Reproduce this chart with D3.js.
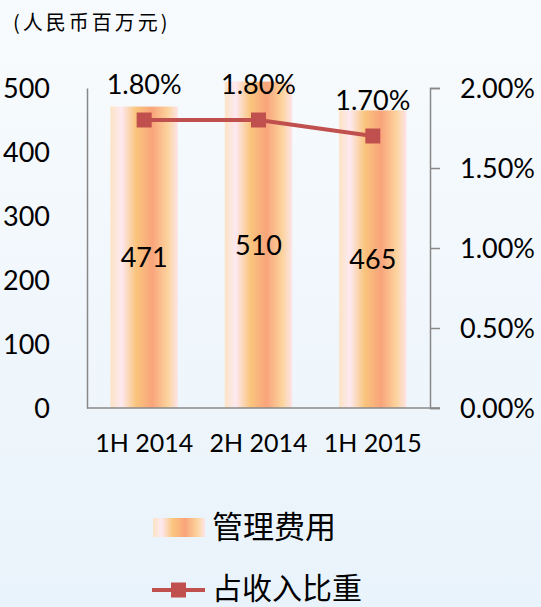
<!DOCTYPE html>
<html>
<head>
<meta charset="utf-8">
<script src="https://cdn.jsdelivr.net/npm/d3@7"></script>
<style>
  body { margin: 0; padding: 0; }
  svg { display: block; }
</style>
</head>
<body>
<script>
'use strict';
// data
var periods = ["1H 2014", "2H 2014", "1H 2015"];
var expense = [471, 510, 465];      // 管理费用, 人民币百万元
var ratio = [1.80, 1.80, 1.70];     // 占收入比重, %
var leftTicks = [0, 100, 200, 300, 400, 500];
var rightTicks = [0, 0.5, 1.0, 1.5, 2.0];

var W = 541, H = 607;
var svg = d3.select("body").append("svg")
    .attr("width", W).attr("height", H);

var defs = svg.append("defs");
var bg = defs.append("linearGradient").attr("id", "bg")
    .attr("x1", 0).attr("y1", 0).attr("x2", 0).attr("y2", 1);
bg.append("stop").attr("offset", "0%").attr("stop-color", "#f8fbfd");
bg.append("stop").attr("offset", "100%").attr("stop-color", "#e9f3fb");

var barGrad = defs.append("linearGradient").attr("id", "barGrad")
    .attr("x1", 0).attr("y1", 0).attr("x2", 1).attr("y2", 0);
[["0%", "#fce3c4"], ["16%", "#fde9f1"], ["38%", "#fac57d"],
 ["62%", "#f9a47b"], ["85%", "#fcd39c"], ["100%", "#fde4e8"]].forEach(function(s) {
    barGrad.append("stop").attr("offset", s[0]).attr("stop-color", s[1]);
});

svg.append("rect").attr("width", W).attr("height", H).attr("fill", "url(#bg)");

var margin = {top: 88, left: 87, right: 111, bottom: 199};
var plotW = W - margin.left - margin.right,
    plotH = H - margin.top - margin.bottom;

var g = svg.append("g")
    .attr("transform", "translate(" + margin.left + "," + margin.top + ")");

var xScale = d3.scaleBand()
    .domain(periods)
    .range([0, plotW])
    .paddingInner(0.41)
    .paddingOuter(0.205);

var yLeft = d3.scaleLinear().domain([0, 500]).range([plotH, 0]);
var yRight = d3.scaleLinear().domain([0, 2.0]).range([plotH, 0]);

var numFont = "Lato, 'Open Sans', sans-serif";
var cjkFont = "'Noto Sans CJK SC', sans-serif";

// bars
g.selectAll(".bar")
    .data(expense)
    .enter().append("rect")
    .attr("class", "bar")
    .attr("x", function(d, i) { return xScale(periods[i]); })
    .attr("width", xScale.bandwidth())
    .attr("y", function(d) { return yLeft(d); })
    .attr("height", function(d) { return plotH - yLeft(d); })
    .attr("fill", "url(#barGrad)");

// bar value labels
g.selectAll(".barLabel")
    .data(expense)
    .enter().append("text")
    .attr("x", function(d, i) { return xScale(periods[i]) + xScale.bandwidth() / 2; })
    .attr("y", function(d) { return (yLeft(d) + plotH) / 2; })
    .attr("dy", "0.36em")
    .attr("text-anchor", "middle")
    .attr("font-family", numFont)
    .attr("font-size", 27)
    .attr("fill", "#000")
    .text(function(d) { return d; });

// left axis
var leftAxis = g.append("g")
    .call(d3.axisLeft(yLeft).tickValues(leftTicks).tickSize(0).tickPadding(37));
leftAxis.select(".domain").attr("stroke", "#888").attr("stroke-width", 1.5);
leftAxis.selectAll("text")
    .attr("font-family", numFont).attr("font-size", 27).attr("fill", "#000")
    .attr("dy", "0.36em");

// right axis
var rightAxis = g.append("g")
    .attr("transform", "translate(" + plotW + ",0)")
    .call(d3.axisRight(yRight).tickValues(rightTicks).tickSize(10).tickPadding(20)
        .tickSizeOuter(10)
        .tickFormat(function(d) { return d.toFixed(2) + "%"; }));
rightAxis.selectAll("line, .domain").attr("stroke", "#888").attr("stroke-width", 1.5);
rightAxis.selectAll("text")
    .attr("font-family", numFont).attr("font-size", 27).attr("fill", "#000")
    .attr("dy", "0.36em");

// x axis
var xAxis = g.append("g")
    .attr("transform", "translate(0," + plotH + ")")
    .call(d3.axisBottom(xScale).tickSize(0).tickPadding(26));
xAxis.select(".domain").attr("d", "M0,0H" + (plotW + 10))
    .attr("stroke", "#888").attr("stroke-width", 1.5);
xAxis.selectAll("text")
    .attr("font-family", numFont).attr("font-size", 25).attr("fill", "#000");

// ratio line
var line = d3.line()
    .x(function(d, i) { return xScale(periods[i]) + xScale.bandwidth() / 2; })
    .y(function(d) { return yRight(d); });

g.append("path")
    .datum(ratio)
    .attr("d", line)
    .attr("fill", "none")
    .attr("stroke", "#c0504d")
    .attr("stroke-width", 4);

g.selectAll(".marker")
    .data(ratio)
    .enter().append("rect")
    .attr("x", function(d, i) { return xScale(periods[i]) + xScale.bandwidth() / 2 - 7.5; })
    .attr("y", function(d) { return yRight(d) - 7.5; })
    .attr("width", 15).attr("height", 15)
    .attr("fill", "#c0504d");

g.selectAll(".ratioLabel")
    .data(ratio)
    .enter().append("text")
    .attr("x", function(d, i) { return xScale(periods[i]) + xScale.bandwidth() / 2; })
    .attr("y", function(d) { return yRight(d) - 36; })
    .attr("dy", "0.36em")
    .attr("text-anchor", "middle")
    .attr("font-family", numFont)
    .attr("font-size", 27)
    .attr("fill", "#000")
    .text(function(d) { return d.toFixed(2) + "%"; });

// unit label
svg.append("text")
    .attr("x", 13).attr("y", 30)
    .attr("font-family", cjkFont)
    .attr("font-size", 20)
    .attr("letter-spacing", 3)
    .attr("fill", "#000")
    .text("(人民币百万元)");

// legend
var legend = svg.append("g");
legend.append("rect")
    .attr("x", 153).attr("y", 518).attr("width", 52).attr("height", 19)
    .attr("fill", "url(#barGrad)");
legend.append("text")
    .attr("x", 212).attr("y", 527).attr("dy", "0.36em")
    .attr("font-family", cjkFont)
    .attr("font-size", 31).attr("fill", "#000")
    .text("管理费用");
legend.append("line")
    .attr("x1", 152).attr("x2", 205).attr("y1", 590).attr("y2", 590)
    .attr("stroke", "#c0504d").attr("stroke-width", 4);
legend.append("rect")
    .attr("x", 171).attr("y", 582.5).attr("width", 15).attr("height", 15)
    .attr("fill", "#c0504d");
legend.append("text")
    .attr("x", 212).attr("y", 588).attr("dy", "0.36em")
    .attr("font-family", cjkFont)
    .attr("font-size", 30).attr("fill", "#000")
    .text("占收入比重");
</script>
</body>
</html>
